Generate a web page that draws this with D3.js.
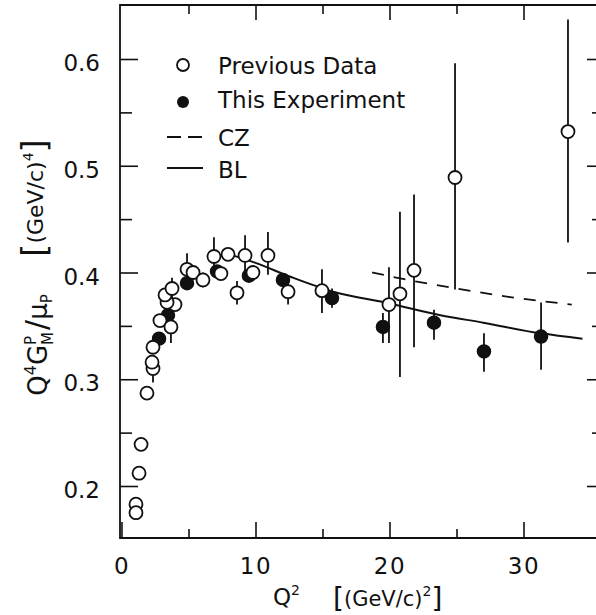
<!DOCTYPE html>
<html><head><meta charset="utf-8">
<script src="https://cdn.jsdelivr.net/npm/d3@7"></script>
<style>
body{margin:0;background:#fff}
svg{display:block}
text{font-family:"DejaVu Sans",sans-serif;fill:#111}
</style>
</head><body><svg id="c" width="596" height="615"></svg>
<script>
// ---- Data ----
// Previous data (open circles)
const prevQ2  = [1.08, 1.08, 1.31, 1.46, 1.90, 2.35, 2.28, 2.35, 2.87, 3.69, 3.99, 3.40, 3.25, 3.77, 4.89, 5.34, 6.08, 6.90, 7.42, 7.95, 8.62, 9.22, 9.81, 10.93, 12.43, 14.96, 19.96, 20.78, 21.83, 24.89, 33.32];
const prevVal = [0.183,0.175,0.212,0.239,0.287,0.310,0.316,0.330,0.355,0.349,0.370,0.372,0.379,0.385,0.403,0.400,0.393,0.415,0.399,0.417,0.381,0.416,0.400,0.416,0.382,0.383,0.370,0.380,0.402,0.489,0.532];
const prevLo  = [null,null,null,null,null,0.297,null,null,null,0.334,null,null,null,0.375,0.388,null,0.386,0.397,null,null,0.370,0.397,null,0.398,0.370,0.362,0.334,0.302,0.330,0.384,0.428];
const prevHi  = [null,null,null,null,null,0.318,null,null,null,0.364,null,null,null,0.395,0.418,null,0.400,0.433,null,null,0.392,0.435,null,0.438,0.394,0.403,0.405,0.457,0.473,0.596,0.637];
// This experiment (filled circles)
const expQ2  = [2.80, 3.47, 4.89, 7.13, 9.51, 12.05, 15.71, 19.51, 23.32, 27.05, 31.31];
const expVal = [0.338,0.360,0.390,0.401,0.397,0.393,0.376,0.349,0.353,0.326,0.340];
const expLo  = [null,null,null,null,null,null,0.367,0.334,0.337,0.307,0.309];
const expHi  = [null,null,null,null,null,null,0.385,0.362,0.365,0.343,0.372];
// Theory curves
const blQ2  = [8.3, 10, 12.6, 15.8, 20, 23.8, 27, 31.3, 34.4];
const blVal = [0.416,0.409,0.396,0.382,0.371,0.360,0.353,0.343,0.338];
const czQ2  = [18.7, 21, 25, 29, 33.6];
const czVal = [0.400,0.394,0.385,0.377,0.370];
// Ticks
const xMajor = [0,10,20,30], xMinor = [5,15,25];
const yMajor = [0.2,0.3,0.4,0.5,0.6], yMinor = [0.25,0.35,0.45,0.55];
const legendLabels = ["Previous Data","This Experiment","CZ","BL"];

// ---- Drawing ----
const svg = d3.select("#c");
const ink = "#111";
const L=120, T=5, B=538, R=600;
const x = d3.scaleLinear().domain([0,35]).range([121.5,590.5]);
const y = d3.scaleLinear().domain([0.2,0.6]).range([486,59]);

function strip(g){ g.select(".domain").remove(); g.selectAll("line").attr("stroke",ink).attr("stroke-width",1.6); }

// bottom
svg.append("g").attr("transform",`translate(0,${B})`)
  .call(d3.axisBottom(x).tickValues(xMajor).tickSize(-16).tickPadding(20).tickFormat(d3.format("d")))
  .call(strip)
  .call(g=>g.selectAll("text").attr("font-size",23).attr("letter-spacing",1.5).attr("font-family","DejaVu Sans").attr("fill",ink));
svg.append("g").attr("transform",`translate(0,${B})`)
  .call(d3.axisBottom(x).tickValues(xMinor).tickSize(-9).tickFormat(""))
  .call(strip);
// top
svg.append("g").attr("transform",`translate(0,${T})`)
  .call(d3.axisTop(x).tickValues([10,20,30]).tickSize(-15).tickFormat(""))
  .call(strip);
svg.append("g").attr("transform",`translate(0,${T})`)
  .call(d3.axisTop(x).tickValues(xMinor).tickSize(-9).tickFormat(""))
  .call(strip);
// left
svg.append("g").attr("transform",`translate(${L},0)`)
  .call(d3.axisLeft(y).tickValues(yMajor).tickSize(-18).tickPadding(20).tickFormat(d3.format(".1f")))
  .call(strip)
  .call(g=>g.selectAll("text").attr("font-size",23).attr("dy","0.5em").attr("font-family","DejaVu Sans").attr("fill",ink));
svg.append("g").attr("transform",`translate(${L},0)`)
  .call(d3.axisLeft(y).tickValues(yMinor).tickSize(-12).tickFormat(""))
  .call(strip);
// right
svg.append("g").attr("transform",`translate(${R},0)`)
  .call(d3.axisRight(y).tickValues(yMajor).tickSize(-13).tickFormat(""))
  .call(strip);
svg.append("g").attr("transform",`translate(${R},0)`)
  .call(d3.axisRight(y).tickValues(yMinor).tickSize(-8).tickFormat(""))
  .call(strip);

// frame
svg.append("path").attr("d",`M${R},${T}H${L}V${B}H${R}`).attr("fill","none").attr("stroke",ink).attr("stroke-width",1.8);

// curves
const line = (xs,ys)=>d3.line().curve(d3.curveMonotoneX).x((d,i)=>x(xs[i])).y((d,i)=>y(ys[i]))(xs);
svg.append("path").attr("d",line(czQ2,czVal)).attr("fill","none").attr("stroke",ink).attr("stroke-width",1.8).attr("stroke-dasharray","12,10");
svg.append("path").attr("d",line(blQ2,blVal)).attr("fill","none").attr("stroke",ink).attr("stroke-width",2);

// error bars
function errs(xs,lo,hi){
  svg.append("g").selectAll("line").data(xs.map((d,i)=>i).filter(i=>lo[i]!=null)).join("line")
    .attr("x1",i=>x(xs[i])).attr("x2",i=>x(xs[i]))
    .attr("y1",i=>y(lo[i])).attr("y2",i=>y(hi[i]))
    .attr("stroke",ink).attr("stroke-width",1.8);
}
errs(prevQ2,prevLo,prevHi);
errs(expQ2,expLo,expHi);

const r=6.5;
svg.append("g").selectAll("circle").data(expQ2.map((d,i)=>i)).join("circle")
  .attr("cx",i=>x(expQ2[i])).attr("cy",i=>y(expVal[i])).attr("r",r)
  .attr("fill",ink).attr("stroke",ink).attr("stroke-width",1.5);
svg.append("g").selectAll("circle").data(prevQ2.map((d,i)=>i)).join("circle")
  .attr("cx",i=>x(prevQ2[i])).attr("cy",i=>y(prevVal[i])).attr("r",r)
  .attr("fill","#fff").attr("stroke",ink).attr("stroke-width",1.8);

// legend
const lg = svg.append("g");
lg.append("circle").attr("cx",183).attr("cy",65).attr("r",6).attr("fill","#fff").attr("stroke",ink).attr("stroke-width",1.8);
lg.append("circle").attr("cx",183).attr("cy",102).attr("r",6).attr("fill",ink);
lg.append("line").attr("x1",167).attr("x2",203).attr("y1",137).attr("y2",137).attr("stroke",ink).attr("stroke-width",1.8).attr("stroke-dasharray","14,7");
lg.append("line").attr("x1",167).attr("x2",203).attr("y1",168).attr("y2",168).attr("stroke",ink).attr("stroke-width",1.8);
const lgY=[74,108,146,178];
lg.selectAll("text").data(legendLabels).join("text")
  .attr("x",218).attr("y",(d,i)=>lgY[i]).attr("font-size",23).text(d=>d);

// x title
const xt1 = svg.append("text").attr("x",273).attr("y",605).attr("font-size",23);
xt1.append("tspan").text("Q");
xt1.append("tspan").attr("font-size",14).attr("dy",-10).text("2");
const xt2 = svg.append("text").attr("x",333).attr("y",606).attr("font-size",21);
xt2.append("tspan").attr("font-size",28).attr("dy",2).text("[");
xt2.append("tspan").attr("dy",-2).text("(GeV/c)");
xt2.append("tspan").attr("font-size",14).attr("dy",-10).text("2");
xt2.append("tspan").attr("font-size",28).attr("dy",12).text("]");

// y title
const yt1 = svg.append("text").attr("transform","translate(47,345) rotate(-90)").attr("text-anchor","middle").attr("font-size",26);
yt1.append("tspan").text("Q");
yt1.append("tspan").attr("font-size",16).attr("dy",-11).text("4");
yt1.append("tspan").attr("dy",11).text("G");
yt1.append("tspan").attr("font-size",15).attr("dy",-11).text("P");
yt1.append("tspan").attr("font-size",15).attr("dx",-9).attr("dy",17).text("M");
yt1.append("tspan").attr("font-size",30).attr("dx",2).attr("dy",-6).text("/");
yt1.append("tspan").text("μ");
yt1.append("tspan").attr("font-size",15).attr("dy",5).text("P");

const yt2 = svg.append("text").attr("transform","translate(43,198) rotate(-90)").attr("text-anchor","middle").attr("font-size",22);
yt2.append("tspan").attr("font-size",34).attr("dy",3).text("[");
yt2.append("tspan").attr("dy",-3).text("(GeV/c)");
yt2.append("tspan").attr("font-size",14).attr("dy",-10).text("4");
yt2.append("tspan").attr("font-size",34).attr("dy",13).text("]");
</script>
</body></html>
